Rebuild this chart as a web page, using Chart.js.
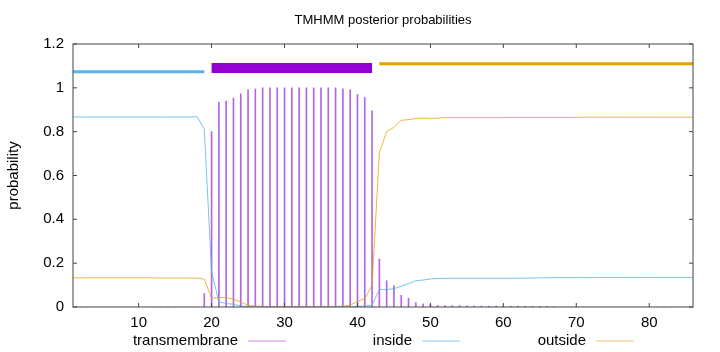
<!DOCTYPE html>
<html>
<head>
<meta charset="utf-8">
<script src="https://cdn.jsdelivr.net/npm/chart.js@4.4.0/dist/chart.umd.min.js"></script>
<style>
  html, body { margin: 0; padding: 0; background: #fff; }
  #wrap { width: 720px; height: 352px; }
</style>
</head>
<body>
<div id="wrap"><canvas id="tmhmm"></canvas></div>
<script>
// sequence positions
const residues = [
   1,  2,  3,  4,  5,  6,  7,  8,  9, 10, 11, 12, 13, 14, 15, 16, 17, 18, 19, 20,
  21, 22, 23, 24, 25, 26, 27, 28, 29, 30, 31, 32, 33, 34, 35, 36, 37, 38, 39, 40,
  41, 42, 43, 44, 45, 46, 47, 48, 49, 50, 51, 52, 53, 54, 55, 56, 57, 58, 59, 60,
  61, 62, 63, 64, 65, 66, 67, 68, 69, 70, 71, 72, 73, 74, 75, 76, 77, 78, 79, 80,
  81, 82, 83, 84, 85, 86
];

// posterior probabilities, one per residue
const tmProb = [
  0, 0, 0, 0, 0, 0, 0, 0, 0, 0, 0, 0, 0, 0, 0, 0, 0, 0, 0.061, 0.80,
  0.935, 0.94, 0.953, 0.973, 0.991, 0.995, 1, 1, 1, 1, 1, 1, 1, 1, 1, 1, 1, 0.995, 0.991, 0.97,
  0.956, 0.895, 0.219, 0.12, 0.097, 0.053, 0.04, 0.02, 0.015, 0.012, 0.008, 0.007, 0.006, 0.006, 0.005, 0.005, 0.005, 0.004, 0.004, 0.004,
  0.004, 0.004, 0.003, 0.003, 0.003, 0.003, 0.002, 0, 0, 0, 0, 0, 0, 0, 0, 0, 0, 0, 0, 0,
  0, 0, 0, 0, 0, 0
];
const insideProb = [
  0.867, 0.867, 0.867, 0.867, 0.867, 0.867, 0.867, 0.867, 0.867, 0.867, 0.867, 0.867, 0.867, 0.867, 0.867, 0.867, 0.867, 0.868, 0.812, 0.16,
  0.023, 0.016, 0.012, 0.005, 0.002, 0.001, 0, 0, 0, 0, 0, 0, 0, 0, 0, 0, 0, 0.001, 0.001, 0.003,
  0.005, 0.008, 0.08, 0.08, 0.083, 0.095, 0.107, 0.12, 0.123, 0.128, 0.13, 0.131, 0.131, 0.131, 0.131, 0.131, 0.131, 0.131, 0.131, 0.131,
  0.131, 0.131, 0.132, 0.132, 0.133, 0.133, 0.134, 0.134, 0.134, 0.134, 0.134, 0.134, 0.135, 0.135, 0.135, 0.135, 0.135, 0.135, 0.135, 0.135,
  0.135, 0.135, 0.135, 0.135, 0.135, 0.135
];
const outsideProb = [
  0.133, 0.133, 0.133, 0.133, 0.133, 0.133, 0.133, 0.133, 0.133, 0.133, 0.133, 0.133, 0.132, 0.132, 0.132, 0.132, 0.132, 0.132, 0.127, 0.04,
  0.043, 0.043, 0.035, 0.022, 0.008, 0.004, 0.002, 0.002, 0.002, 0.002, 0.002, 0.002, 0.002, 0.002, 0.002, 0.002, 0.002, 0.004, 0.008, 0.026,
  0.038, 0.099, 0.704, 0.80, 0.82, 0.852, 0.855, 0.86, 0.862, 0.86, 0.862, 0.864, 0.864, 0.864, 0.864, 0.864, 0.864, 0.864, 0.864, 0.864,
  0.865, 0.865, 0.865, 0.865, 0.865, 0.865, 0.865, 0.865, 0.865, 0.865, 0.866, 0.866, 0.866, 0.866, 0.866, 0.866, 0.866, 0.866, 0.866, 0.866,
  0.866, 0.866, 0.866, 0.866, 0.866, 0.866
];

// predicted topology segments drawn above the curves
const regionNames = ['inside', 'TMhelix', 'outside'];
const regionStart = [1, 20, 43];
const regionEnd   = [19, 42, 86];
const regionLevel = [1.073, 1.09, 1.11];

const xTicks = [10, 20, 30, 40, 50, 60, 70, 80];
const yTicks = [0, 0.2, 0.4, 0.6, 0.8, 1, 1.2];

const colors = {
    purple:  "#9400d3",
    impulse: "#b366e0",
    blue:    "#56b4e9",
    orange:  "#e69f00",
    lineBlue:   "rgba(86,180,233,0.8)",
    lineOrange: "rgba(230,159,0,0.75)",
    keyPurple:  "#c88ae8",
    keyBlue:    "#8ccbf0",
    keyOrange:  "#efc46f",
    frame:   "#444444",
    text:    "#000000"
};
const regionColors = [ colors.blue, colors.purple, colors.orange ];
const regionWidths = [ 3, 10, 3 ];

const fontFamily = '"Liberation Sans", Arial, sans-serif';
Chart.defaults.font.family = fontFamily;
Chart.defaults.font.size = 15;
Chart.defaults.color = colors.text;

function toPoints( values ) {
    return residues.map( (r, i) => ({ x: r, y: values[i] }) );
}

let datasets = [
    {
        type: 'bar',
        label: 'transmembrane',
        data: toPoints( tmProb ),
        backgroundColor: colors.impulse,
        barThickness: 1,
        order: 3,
        inKey: true,
        keyColor: colors.keyPurple
    },
    {
        type: 'line',
        label: 'inside',
        data: toPoints( insideProb ),
        borderColor: colors.lineBlue,
        borderWidth: 1,
        pointRadius: 0,
        tension: 0,
        order: 1,
        inKey: true,
        keyColor: colors.keyBlue
    },
    {
        type: 'line',
        label: 'outside',
        data: toPoints( outsideProb ),
        borderColor: colors.lineOrange,
        borderWidth: 1,
        pointRadius: 0,
        tension: 0,
        order: 2,
        inKey: true,
        keyColor: colors.keyOrange
    }
];

// one short thick line per topology segment
for ( let i = 0; i < regionNames.length; i++ ) {
    datasets.push({
        type: 'line',
        label: regionNames[i],
        data: [ { x: regionStart[i], y: regionLevel[i] }, { x: regionEnd[i], y: regionLevel[i] } ],
        borderColor: regionColors[i],
        borderWidth: regionWidths[i],
        borderCapStyle: 'butt',
        pointRadius: 0,
        order: 0
    });
}

// gnuplot-like box, inward tics, centred title and key below
const gnuplotFrame = {
    id: 'gnuplotFrame',
    afterDatasetsDraw( chart ) {
        const { ctx, chartArea: a } = chart;
        const x = chart.scales.x, y = chart.scales.y;
        ctx.save();
        ctx.strokeStyle = colors.frame;
        ctx.lineWidth = 1;
        ctx.strokeRect( a.left, a.top, a.right - a.left, a.bottom - a.top );
        ctx.beginPath();
        xTicks.forEach( v => {
            const px = x.getPixelForValue( v );
            ctx.moveTo( px, a.bottom ); ctx.lineTo( px, a.bottom - 4 );
            ctx.moveTo( px, a.top );    ctx.lineTo( px, a.top + 4 );
        });
        yTicks.forEach( v => {
            const py = y.getPixelForValue( v );
            ctx.moveTo( a.left, py );  ctx.lineTo( a.left + 4, py );
            ctx.moveTo( a.right, py ); ctx.lineTo( a.right - 4, py );
        });
        ctx.stroke();

        // title over the plot box
        ctx.fillStyle = colors.text;
        ctx.font = '13px ' + fontFamily;
        ctx.textAlign = 'center';
        ctx.textBaseline = 'middle';
        ctx.fillText( 'TMHMM posterior probabilities', (a.left + a.right) / 2, 20 );
        ctx.restore();
    },
    afterDraw( chart ) {
        const ctx = chart.ctx;
        const items = chart.data.datasets.filter( d => d.inKey );
        const colW = 174, gap = 10, sampleLen = 38;
        const firstRight = chart.width / 2 - 122;
        const yMid = chart.height - 11;
        ctx.save();
        ctx.font = '15px ' + fontFamily;
        ctx.textAlign = 'right';
        ctx.textBaseline = 'middle';
        ctx.fillStyle = colors.text;
        items.forEach( (d, i) => {
            const right = firstRight + i * colW;
            ctx.fillText( d.label, right, yMid );
            ctx.strokeStyle = d.keyColor;
            ctx.lineWidth = 1;
            ctx.beginPath();
            ctx.moveTo( right + gap, yMid );
            ctx.lineTo( right + gap + sampleLen, yMid );
            ctx.stroke();
        });
        ctx.restore();
    }
};

new Chart( document.getElementById('tmhmm'), {
    type: 'bar',
    data: { datasets: datasets },
    options: {
        responsive: true,
        maintainAspectRatio: false,
        animation: false,
        events: [],
        layout: { padding: { top: 44, right: 27, bottom: 21, left: 0 } },
        plugins: {
            legend: { display: false },
            title: { display: false },
            tooltip: { enabled: false }
        },
        scales: {
            x: {
                type: 'linear',
                min: 1,
                max: 86,
                offset: false,
                afterFit( scale ) { scale.height = 24; },
                afterBuildTicks( scale ) { scale.ticks = xTicks.map( v => ({ value: v }) ); },
                grid: { display: false, drawTicks: false },
                border: { display: false },
                ticks: { padding: 7, maxRotation: 0, autoSkip: false, color: colors.text }
            },
            y: {
                min: 0,
                max: 1.2,
                afterFit( scale ) { scale.width = 73; },
                afterBuildTicks( scale ) { scale.ticks = yTicks.map( v => ({ value: v }) ); },
                grid: { display: false, drawTicks: false },
                border: { display: false },
                ticks: { padding: 9, color: colors.text, callback: v => String( v ) },
                title: {
                    display: true,
                    text: 'probability',
                    color: colors.text,
                    padding: { top: 5, bottom: 0 }
                }
            }
        }
    },
    plugins: [ gnuplotFrame ]
});
</script>
</body>
</html>
